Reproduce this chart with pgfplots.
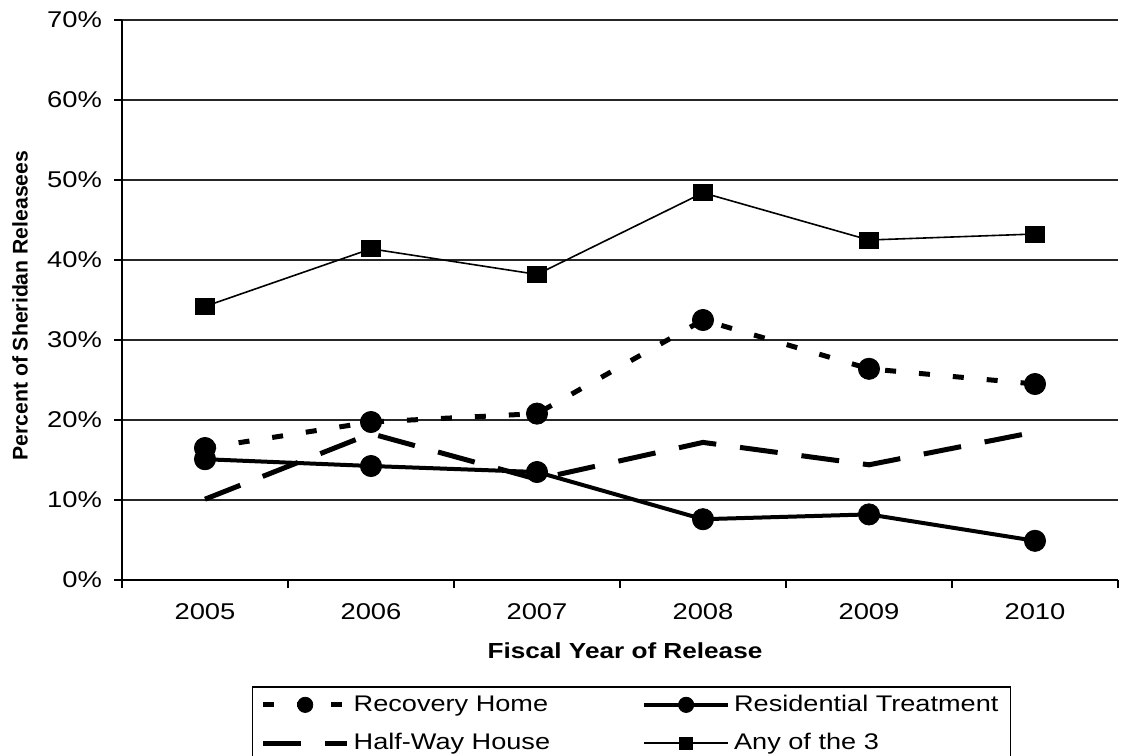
\documentclass[border=0pt]{standalone}
\usepackage{pgfplots}
\pgfplotsset{compat=1.18}
\usepackage{fontspec}
\setmainfont{Liberation Sans}[FakeStretch=1.2]
\newfontfamily\ylabfont{Liberation Sans}

\begin{document}
\begin{tikzpicture}
\begin{axis}[
  at={(0,0)}, anchor=south west,
  scale only axis, width=498pt, height=280pt,
  xmin=-0.5, xmax=5.5, ymin=0, ymax=70,
  axis x line*=bottom, axis y line*=left,
  axis line style={line width=0.9pt, black, -},
  xtick={0,1,2,3,4,5}, xticklabels={2005,2006,2007,2008,2009,2010},
  major x tick style={draw=none},
  minor xtick={-0.5,0.5,1.5,2.5,3.5,4.5,5.5},
  minor x tick style={line width=0.8pt, black},
  minor tick length=4pt,
  major tick length=4pt,
  major y tick style={line width=0.8pt, black},
  tick align=outside,
  ytick={0,10,20,30,40,50,60,70},
  yticklabel={\pgfmathprintnumber{\tick}\%},
  /pgf/number format/assume math mode=true,
  tick label style={font=\fontsize{11.4}{13}\selectfont},
  yticklabel style={xshift=-2.5pt},
  xticklabel style={yshift=-4.5pt},
  ymajorgrids, major grid style={line width=0.8pt, black!85},
  xlabel={Fiscal Year of Release},
  xlabel style={at={(axis description cs:0.505,-0.126)}, anchor=center, font=\bfseries\fontsize{10.9}{13}\selectfont},
  ylabel={Percent of Sheridan Releasees},
  ylabel style={at={(axis description cs:-0.1024,0.49)}, anchor=center, font=\ylabfont\bfseries\fontsize{10.6}{12}\selectfont},
  legend columns=2,
  legend cell align=left,
  legend style={at={(0.1305,-0.19)}, anchor=north west, draw=black, line width=0.75pt,
    font=\fontsize{11.3}{13}\selectfont,
    inner xsep=4pt,
    /tikz/every even column/.append style={column sep=44pt},
    row sep=5.5pt},
  legend image code/.code={\draw[mark repeat=2, mark phase=2] plot coordinates {(0pt,0pt) (21pt,0pt) (42pt,0pt)};},
  legend image post style={every mark/.append style={scale=0.72}},
]
\addplot[black, line width=2.5pt, dash pattern=on 5.5pt off 11.5pt, mark=*, mark size=5.3pt, mark options={solid, line width=0.4pt},
  legend image post style={dash phase=0pt}]
  coordinates {(0,16.5)(1,19.75)(2,20.8)(3,32.5)(4,26.4)(5,24.5)};
\addlegendentry{Recovery Home}
\addplot[black, line width=2pt, mark=*, mark size=5.3pt, mark options={solid, line width=0.4pt}]
  coordinates {(0,15.1)(1,14.25)(2,13.5)(3,7.6)(4,8.2)(5,4.9)};
\addlegendentry{Residential Treatment}
\addplot[black, line width=2.5pt, dash pattern=on 19pt off 12pt, mark=none]
  coordinates {(0,10.1)(1,18.3)(2,12.6)(3,17.2)(4,14.4)(5,18.5)};
\addlegendentry{Half-Way House}
\addplot[black, line width=0.8pt, mark=square*, mark size=4pt, mark options={solid, line width=0.4pt, xscale=1.15}]
  coordinates {(0,34.2)(1,41.4)(2,38.2)(3,48.4)(4,42.5)(5,43.25)};
\addlegendentry{Any of the 3}
\end{axis}
\pgfresetboundingbox
\path[use as bounding box] (-61pt,-87.5pt) rectangle (503pt,290pt);
\end{tikzpicture}
\end{document}
